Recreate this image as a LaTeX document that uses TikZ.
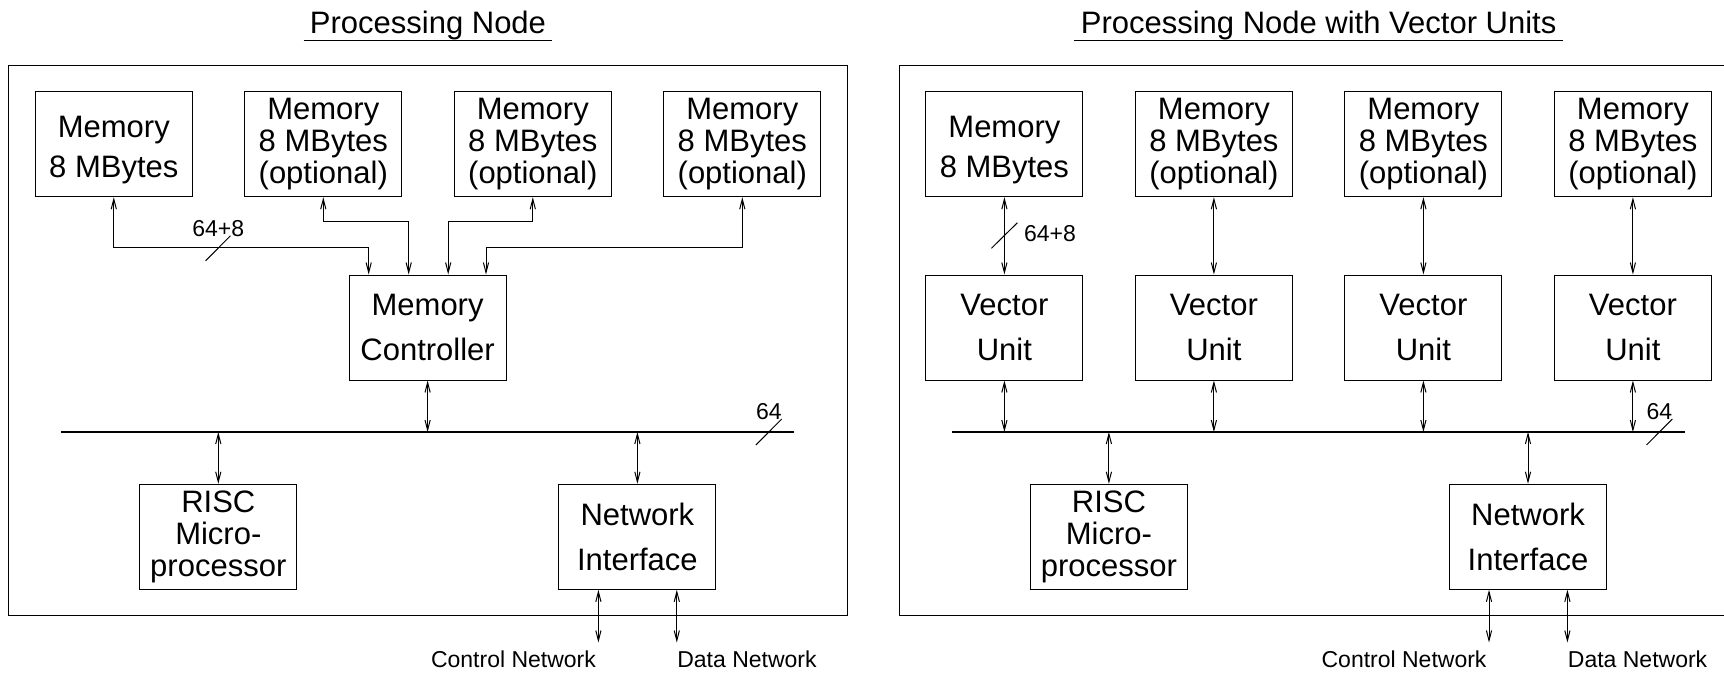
\documentclass[tikz,border=0pt]{standalone}
\usepackage{fontspec}
\setmainfont{Liberation Sans}
\usetikzlibrary{arrows.meta,calc}
\begin{document}
\begin{tikzpicture}[
                x=0.5pt, y=-0.5pt,
                block/.style={draw, line width=0.5pt, minimum width=78.5pt, minimum height=52.5pt,
                    inner sep=0pt, align=center, font=\fontsize{15.5}{15.9}\selectfont},
                wide/.style={font=\fontsize{15.5}{22.5}\selectfont},
                heading/.style={font=\fontsize{15.5}{18}\selectfont, inner xsep=3pt, inner ysep=0pt},
                small/.style={font=\fontsize{11.5}{13}\selectfont, inner sep=0pt},
                biarrow/.style={line width=0.5pt,
                    {Straight Barb[length=5pt,width=2.6pt]}-{Straight Barb[length=5pt,width=2.6pt]}},
                bus/.style={line width=1pt},
                thin/.style={line width=0.5pt}
                ]
                \useasboundingbox (0,0) rectangle (1724,674);
                \clip (0,0) rectangle (1724,674);
                % parts that both nodes share
                \foreach \dx/\p in {0/L, 890.6/R} {
                    \begin{scope}[shift={(\dx,0)}]
                        \draw[thin] (8.8,65.7) rectangle ++(838.7,549.3);
                        \draw[bus] (61.4,432) coordinate (busw\p) -- (794.3,432) coordinate (buse\p);
                        \node[block] (risc\p) at (218.3,536.8) {RISC\\Micro-\\processor};
                        \node[block, wide] (ni\p) at (637.4,536.8) {Network\\Interface};
                        \draw[biarrow] (busw\p -| risc\p) -- (risc\p);
                        \draw[biarrow] (busw\p -| ni\p) -- (ni\p);
                        \draw[biarrow] ([xshift=-19.5pt]ni\p.south) -- ++(0,52.7)
                            node[small, anchor=north east, yshift=-4pt, xshift=-1pt] (ctl\p) {Control Network};
                        \draw[biarrow] ([xshift=19.7pt]ni\p.south) -- ++(0,52.7)
                            node[small, anchor=north west, yshift=-4pt] (dat\p) {Data Network};
                        % bus width
                        \coordinate (bw\p) at (768.8,432);
                        \draw[thin] (bw\p) ++(-12.9,13) -- ++(25.8,-26);
                        \node[small, anchor=base] (bwlab\p) at (768.8,419) {64};
                    \end{scope}
                }
                % Processing Node
                \node[heading, anchor=base] (title1) at (428,33.3) {Processing Node};
                \draw[thin] (title1.south west) -- (title1.south east);
                \node[block, font=\fontsize{15.5}{20}\selectfont] (mem1) at (113.8,144.2)
                    {\rule{0pt}{16.6pt}Memory\\8 MBytes};
                \foreach \i/\x in {2/323.3, 3/532.8, 4/742.3}
                    \node[block] (mem\i) at (\x,144.2) {Memory\\8 MBytes\\(optional)};
                \node[block, wide] (ctrl) at (427.6,327.5) {Memory\\Controller};
                \draw[biarrow] (mem1.south) |- ($(ctrl.north)+(-58.9,-26.7)$) -- ++(0,26.7);
                \draw[biarrow] (mem2.south) |- ($(ctrl.north)+(-18.9,-52.7)$) -- ++(0,52.7);
                \draw[biarrow] (mem3.south) |- ($(ctrl.north)+(20.6,-52.7)$) -- ++(0,52.7);
                \draw[biarrow] (mem4.south) |- ($(ctrl.north)+(58.4,-26.7)$) -- ++(0,26.7);
                \draw[biarrow] (ctrl) -- (ctrl |- buswL);
                \coordinate (w1) at (218,248.3);
                \draw[thin] (w1) ++(-12.4,12.5) -- ++(24.8,-25);
                \node[small, anchor=base] (w1lab) at (218.3,236.7) {64+8};
                % Processing Node with Vector Units
                \node[heading, anchor=base] (title2) at (1318.6,33.3) {Processing Node with Vector Units};
                \draw[thin] (title2.south west) -- (title2.south east);
                \node[block, font=\fontsize{15.5}{20}\selectfont] (vmem1) at (1004.4,144.2)
                    {\rule{0pt}{16.6pt}Memory\\8 MBytes};
                \foreach \i/\x in {2/1213.9, 3/1423.4, 4/1632.9}
                    \node[block] (vmem\i) at (\x,144.2) {Memory\\8 MBytes\\(optional)};
                \foreach \i/\x in {1/1004.4, 2/1213.9, 3/1423.4, 4/1632.9} {
                    \node[block, wide] (vu\i) at (\x,327.5) {Vector\\Unit};
                    \draw[biarrow] (vmem\i) -- (vu\i);
                    \draw[biarrow] (vu\i) -- (vu\i |- buswR);
                }
                \coordinate (w2) at (1004.4,235.5);
                \draw[thin] (w2) ++(-13,12.8) -- ++(26,-25.6);
                \node[small, anchor=base west] (w2lab) at (1023.6,241.7) {64+8};
\end{tikzpicture}
\end{document}
